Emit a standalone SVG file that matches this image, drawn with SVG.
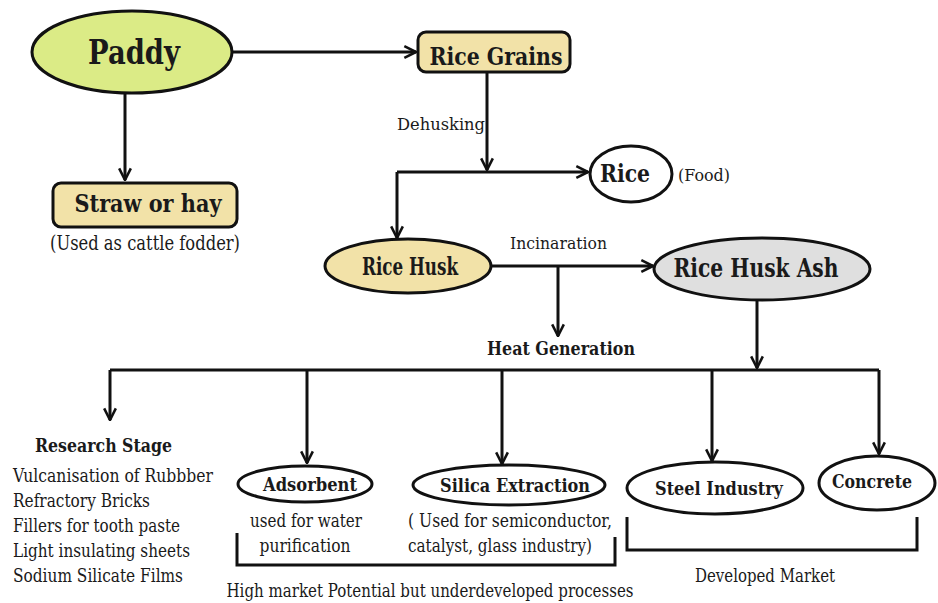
<svg xmlns="http://www.w3.org/2000/svg" width="938" height="603" viewBox="0 0 938 603">
<style>
text{fill:#1a1a1a;font-family:'DejaVu Serif','Liberation Serif',serif}
.b{font-weight:bold}
.n{stroke:#111;stroke-width:3}
.c{fill:none;stroke:#111;stroke-width:3}
.beige{fill:#f2e2a8}
.white{fill:#fff}
</style>
<defs>
<marker id="ah" viewBox="0 0 12 12" refX="11" refY="6" markerWidth="14" markerHeight="14" markerUnits="userSpaceOnUse" orient="auto">
<path d="M1,1 L11,6 L1,11" fill="none" stroke="#111" stroke-width="2.2"/>
</marker>
</defs>
<rect width="938" height="603" fill="#fff"/>
<g id="connectors">
<path class="c" d="M232,52 H416" marker-end="url(#ah)"/>
<path class="c" d="M125,93 V180" marker-end="url(#ah)"/>
<path class="c" d="M487,72 V170" marker-end="url(#ah)"/>
<path class="c" d="M397,172 H588" marker-end="url(#ah)"/>
<path class="c" d="M397,172 V238" marker-end="url(#ah)"/>
<path class="c" d="M492,266 H653" marker-end="url(#ah)"/>
<path class="c" d="M558,266 V336" marker-end="url(#ah)"/>
<path class="c" d="M757,300 V368" marker-end="url(#ah)"/>
<path class="c" d="M110,370 H879"/>
<path class="c" d="M110,370 V420" marker-end="url(#ah)"/>
<path class="c" d="M879,370 V454" marker-end="url(#ah)"/>
<path class="c" d="M307,370 V463" marker-end="url(#ah)"/>
<path class="c" d="M502,370 V464" marker-end="url(#ah)"/>
<path class="c" d="M712,370 V461" marker-end="url(#ah)"/>
<path class="c" d="M237,533 V565 H615 V537"/>
<path class="c" d="M627,517 V550 H917 V517"/>
</g>
<g id="paddy">
<ellipse class="n" cx="132" cy="52" rx="100" ry="41" fill="#dbeb86"/>
<text class="b" x="134" y="64" font-size="34" text-anchor="middle" textLength="92" lengthAdjust="spacingAndGlyphs">Paddy</text>
</g>
<g id="rice-grains">
<rect class="n beige" x="418" y="32" width="152" height="40" rx="8"/>
<text class="b" x="496" y="65" font-size="25" text-anchor="middle" textLength="133" lengthAdjust="spacingAndGlyphs">Rice Grains</text>
</g>
<g id="straw">
<rect class="n beige" x="53" y="183" width="184" height="44" rx="8"/>
<text class="b" x="148" y="212" font-size="25" text-anchor="middle" textLength="147" lengthAdjust="spacingAndGlyphs">Straw or hay</text>
<text x="145" y="250" font-size="20" text-anchor="middle" textLength="190" lengthAdjust="spacingAndGlyphs">(Used as cattle fodder)</text>
</g>
<text x="397" y="130" font-size="17" textLength="88" lengthAdjust="spacingAndGlyphs">Dehusking</text>
<g id="rice">
<ellipse class="n white" cx="631" cy="174" rx="41" ry="28"/>
<text class="b" x="625" y="182" font-size="25" text-anchor="middle" textLength="50" lengthAdjust="spacingAndGlyphs">Rice</text>
<text x="678" y="181" font-size="17" textLength="52" lengthAdjust="spacingAndGlyphs">(Food)</text>
</g>
<g id="rice-husk">
<ellipse class="n beige" cx="408" cy="266" rx="83" ry="27"/>
<text class="b" x="410" y="275" font-size="24" text-anchor="middle" textLength="96" lengthAdjust="spacingAndGlyphs">Rice Husk</text>
</g>
<text x="510" y="249" font-size="17" textLength="97" lengthAdjust="spacingAndGlyphs">Incinaration</text>
<g id="rice-husk-ash">
<ellipse class="n" cx="762" cy="269" rx="108" ry="31" fill="#dfdfdf"/>
<text class="b" x="756" y="277" font-size="26" text-anchor="middle" textLength="165" lengthAdjust="spacingAndGlyphs">Rice Husk Ash</text>
</g>
<g id="heat">
<text class="b" x="561" y="355" font-size="19" text-anchor="middle" textLength="148" lengthAdjust="spacingAndGlyphs">Heat Generation</text>
</g>
<g id="research">
<text class="b" x="35" y="452" font-size="19" textLength="137" lengthAdjust="spacingAndGlyphs">Research Stage</text>
<text x="13" y="482" font-size="19" textLength="200" lengthAdjust="spacingAndGlyphs">Vulcanisation of Rubbber</text>
<text x="13" y="507" font-size="19" textLength="137" lengthAdjust="spacingAndGlyphs">Refractory Bricks</text>
<text x="13" y="532" font-size="19" textLength="167" lengthAdjust="spacingAndGlyphs">Fillers for tooth paste</text>
<text x="13" y="557" font-size="19" textLength="177" lengthAdjust="spacingAndGlyphs">Light insulating sheets</text>
<text x="13" y="582" font-size="19" textLength="170" lengthAdjust="spacingAndGlyphs">Sodium Silicate Films</text>
</g>
<g id="adsorbent">
<ellipse class="n white" cx="305" cy="484" rx="67" ry="18"/>
<text class="b" x="310" y="491" font-size="19" text-anchor="middle" textLength="94" lengthAdjust="spacingAndGlyphs">Adsorbent</text>
<text x="306" y="527" font-size="19" text-anchor="middle" textLength="112" lengthAdjust="spacingAndGlyphs">used for water</text>
<text x="305" y="552" font-size="19" text-anchor="middle" textLength="91" lengthAdjust="spacingAndGlyphs">purification</text>
</g>
<g id="silica">
<ellipse class="n white" cx="509" cy="485" rx="96" ry="20"/>
<text class="b" x="515" y="492" font-size="19" text-anchor="middle" textLength="150" lengthAdjust="spacingAndGlyphs">Silica Extraction</text>
<text x="510" y="527" font-size="19" text-anchor="middle" textLength="204" lengthAdjust="spacingAndGlyphs">( Used for semiconductor,</text>
<text x="500" y="552" font-size="19" text-anchor="middle" textLength="184" lengthAdjust="spacingAndGlyphs">catalyst, glass industry)</text>
</g>
<g id="steel">
<ellipse class="n white" cx="715" cy="488" rx="88" ry="26"/>
<text class="b" x="719" y="495" font-size="19" text-anchor="middle" textLength="128" lengthAdjust="spacingAndGlyphs">Steel Industry</text>
</g>
<g id="concrete">
<ellipse class="n white" cx="877" cy="483" rx="58" ry="27"/>
<text class="b" x="872" y="488" font-size="19" text-anchor="middle" textLength="80" lengthAdjust="spacingAndGlyphs">Concrete</text>
</g>
<text x="430" y="597" font-size="18" text-anchor="middle" textLength="407" lengthAdjust="spacingAndGlyphs">High market Potential but underdeveloped processes</text>
<text x="765" y="582" font-size="18" text-anchor="middle" textLength="140" lengthAdjust="spacingAndGlyphs">Developed Market</text>
</svg>
